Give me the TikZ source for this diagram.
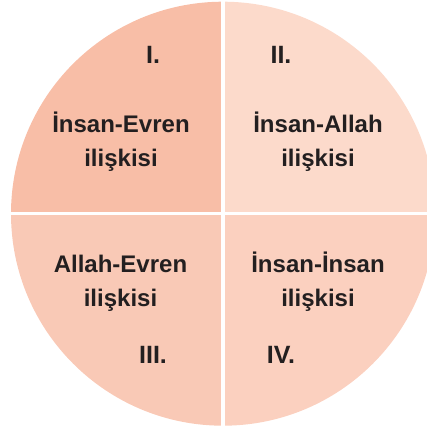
\documentclass[tikz,border=0pt]{standalone}
\usepackage{fontspec}
\setmainfont{Liberation Sans}
\usepackage{tikz}
\usetikzlibrary{calc,positioning}
\definecolor{quadone}{HTML}{F8BEA7}
\definecolor{quadtwo}{HTML}{FCDACB}
\definecolor{quadthree}{HTML}{F9C9B6}
\definecolor{quadfour}{HTML}{FBD0BF}
\definecolor{inkgray}{HTML}{231F20}

\begin{document}
\begin{tikzpicture}[x=1pt,y=1pt]
    \useasboundingbox (0,0) rectangle (427,431);
    % Quadrants
    \coordinate (c) at (223,217.3);
    \def\rad{212pt}

    \fill[quadone] (c) -- ++(90:\rad) arc (90:180:\rad) -- cycle;
    \fill[quadtwo] (c) -- ++(0:\rad) arc (0:90:\rad) -- cycle;
    \fill[quadthree] (c) -- ++(180:\rad) arc (180:270:\rad) -- cycle;
    \fill[quadfour] (c) -- ++(270:\rad) arc (270:360:\rad) -- cycle;

    % Gaps
    \coordinate (top) at ($(c)+(0,215)$);
    \coordinate (bottom) at ($(c)+(0,-215)$);
    \coordinate (left) at ($(c)+(-215,0)$);
    \coordinate (right) at ($(c)+(215,0)$);
    \draw[white, line width=3.4pt] (top) -- (bottom);
    \draw[white, line width=3.4pt] (left) -- (right);

    % Numbers
    \node[inkgray, font=\fontsize{25}{30}\selectfont\bfseries, anchor=base] (one) at (153,367) {I.};
    \node[inkgray, font=\fontsize{25}{30}\selectfont\bfseries, anchor=base] (two) at (281,367) {II.};
    \node[inkgray, font=\fontsize{25}{30}\selectfont\bfseries, anchor=base] (three) at (153,67) {III.};
    \node[inkgray, font=\fontsize{25}{30}\selectfont\bfseries, anchor=base] (four) at (281,67) {IV.};

    % Labels
    \node[inkgray, font=\fontsize{24}{34}\selectfont\bfseries, align=center, anchor=base] (insanevren) at (121,264) {İnsan-Evren\\ilişkisi};
    \node[inkgray, font=\fontsize{24}{34}\selectfont\bfseries, align=center, anchor=base] (insanallah) at (318,264) {İnsan-Allah\\ilişkisi};
    \node[inkgray, font=\fontsize{24}{34}\selectfont\bfseries, align=center, anchor=base] (allahevren) at (120.5,124) {Allah-Evren\\ilişkisi};
    \node[inkgray, font=\fontsize{24}{34}\selectfont\bfseries, align=center, anchor=base] (insaninsan) at (318,124) {İnsan-İnsan\\ilişkisi};

\end{tikzpicture}
\end{document}
